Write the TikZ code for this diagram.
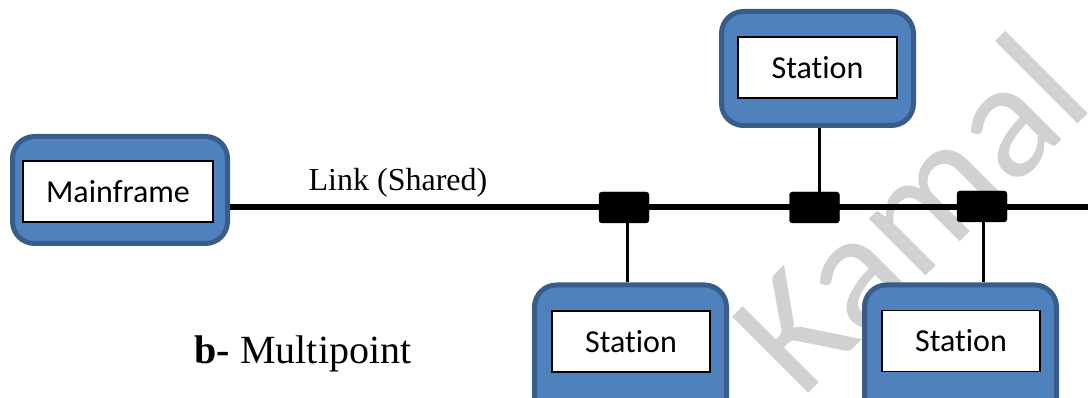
\documentclass[tikz,border=0pt]{standalone}
\usepackage{fontspec}
\setmainfont{Liberation Serif}
\newfontfamily\calfont[Ligatures=NoCommon]{Carlito}
\usetikzlibrary{backgrounds}
\pgfdeclarelayer{wm}
\pgfsetlayers{wm,background,main}
\definecolor{fillblue}{RGB}{79,129,189}
\definecolor{bordblue}{RGB}{56,93,138}
\begin{document}
\begin{tikzpicture}[x=1pt,y=-1pt,
  outerbox/.style={draw=bordblue, fill=fillblue, line width=5pt, rounded corners=22pt, inner sep=0pt},
  innerbox/.style={draw=black, fill=white, line width=1.5pt, inner sep=0pt, font=\calfont\fontsize{32}{36}\selectfont},
  tap/.style={draw=black, fill=black, rounded corners=3pt, inner sep=0pt, minimum width=50pt, minimum height=31pt},
  bus/.style={line width=5.5pt},
  drop/.style={line width=3pt},
  lbl/.style={inner sep=0pt}]
\useasboundingbox (0,0) rectangle (1088,398);
% stations
\node[outerbox, minimum width=215pt, minimum height=107pt] (mainO) at (120,190) {};
\node[innerbox, minimum width=190pt, minimum height=61pt] (main) at (118,191.5) {Mainframe};
\node[outerbox, minimum width=192pt, minimum height=114pt] (topO) at (817.5,68.5) {};
\node[innerbox, minimum width=159pt, minimum height=61pt] (top) at (817.5,67.5) {Station};
\node[outerbox, minimum width=192pt, minimum height=143pt] (b1O) at (630.5,356.5) {};
\node[innerbox, minimum width=158pt, minimum height=61pt] (b1) at (631,341.5) {Station};
\node[outerbox, minimum width=192pt, minimum height=143pt] (b2O) at (960.5,356.5) {};
\node[innerbox, minimum width=158pt, minimum height=61pt] (b2) at (961,341) {Station};
% taps
\node[tap] (c1) at (624,207.5) {};
\node[tap] (c2) at (814.5,207.5) {};
\node[tap] (c3) at (982,206.5) {};
\coordinate (busend) at (1090,207);
% labels
\node[lbl, font=\fontsize{32}{36}\selectfont] (link) at (398,183) {Link (Shared)};
\node[lbl, font=\fontsize{40}{44}\selectfont] (cap) at (303,354) {\textbf{b-} Multipoint};
% watermark
\begin{pgfonlayer}{wm}
\node[rotate=45, anchor=base west, inner sep=0pt, text=black!18, font=\calfont\fontsize{168}{168}\selectfont] (wmk) at (801,401) {Kamal};
\end{pgfonlayer}
% connectors
\begin{pgfonlayer}{background}
\draw[bus] (mainO.east |- 0,207) -- (busend);
\draw[drop] (c2.north -| 819,0) -- (topO.south -| 819,0);
\draw[drop] (c1.south -| 627,0) -- (b1O.north -| 627,0);
\draw[drop] (c3.south -| 983,0) -- (b2O.north -| 983,0);
\end{pgfonlayer}
\end{tikzpicture}
\end{document}
